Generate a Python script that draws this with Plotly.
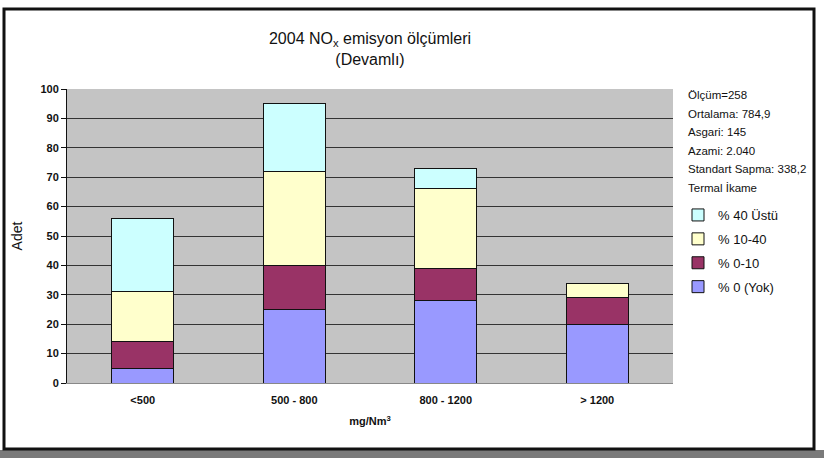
import plotly.graph_objects as go

categories = ["<500", "500 - 800", "800 - 1200", "> 1200"]
yok = [5, 25, 28, 20]
p0_10 = [9, 15, 11, 9]
p10_40 = [17, 32, 27, 5]
p40_ustu = [25, 23, 7, 0]

series = [
    ("% 0 (Yok)", yok, "#9999FF"),
    ("% 0-10", p0_10, "#993366"),
    ("% 10-40", p10_40, "#FFFFCC"),
    ("% 40 Üstü", p40_ustu, "#CCFFFF"),
]

stats = ["Ölçüm=258", "Ortalama: 784,9", "Asgari: 145", "Azami: 2.040",
         "Standart Sapma: 338,2", "Termal İkame"]

FONT = "Liberation Sans, Arial, sans-serif"

fig = go.Figure()
n = len(series)
for i, (name, vals, col) in enumerate(series):
    fig.add_trace(go.Bar(
        x=categories, y=vals, name=name, legendgroup=str(i),
        legendrank=n - i,
        marker=dict(color=col, line=dict(color="#111111", width=1)),
    ))

W, H = 824, 458
L, R, T, B = 67, 151, 89, 75
pw, ph = W - L - R, H - T - B

def px(x):
    return (x - L) / pw

def py(y):
    return (H - B - y) / ph

shapes = [
    dict(type="rect", xref="paper", yref="paper", x0=px(0), x1=px(824), y0=py(450), y1=py(458),
         fillcolor="#7a7a7a", line=dict(width=0), layer="below"),
    dict(type="rect", xref="paper", yref="paper", x0=px(4), x1=px(814), y0=py(449), y1=py(9),
         line=dict(color="#111111", width=3), fillcolor="rgba(0,0,0,0)"),
]

annotations = []
ys = [95, 114, 132, 151, 169, 188]
for txt, yy in zip(stats, ys):
    annotations.append(dict(text=txt, xref="paper", yref="paper", x=px(686), y=py(yy),
                            xanchor="left", yanchor="middle", showarrow=False,
                            font=dict(family=FONT, size=11.5, color="#111")))

fig.update_layout(
    width=W, height=H,
    margin=dict(l=L, r=R, t=T, b=B),
    paper_bgcolor="white",
    plot_bgcolor="#C4C4C4",
    barmode="stack",
    bargap=0.59,
    font=dict(family=FONT, color="#111"),
    title=dict(text="2004 NO<sub>x</sub> emisyon ölçümleri<br>(Devamlı)",
               xref="container", x=370 / W, xanchor="center",
               yref="container", y=1 - 44 / H, yanchor="middle",
               font=dict(size=16, family=FONT, color="#111")),
    legend=dict(x=px(678), y=py(200), xanchor="left", yanchor="top",
                traceorder="grouped", tracegroupgap=4, itemwidth=30,
                font=dict(size=13, family=FONT), bgcolor="rgba(0,0,0,0)"),
    shapes=shapes,
    annotations=annotations,
)
fig.update_yaxes(range=[0, 100], dtick=10, showgrid=True, gridcolor="#333333", gridwidth=1,
                 ticks="outside", ticklen=5, tickcolor="#111",
                 showline=True, linecolor="#111", linewidth=1,
                 tickfont=dict(size=11, family=FONT, weight="bold"),
                 title=dict(text="Adet", font=dict(size=14, family=FONT), standoff=14),
                 zeroline=False)
fig.update_xaxes(showline=True, linecolor="#888", linewidth=1, ticks="",
                 ticklabelstandoff=7,
                 tickfont=dict(size=11, family=FONT, weight="bold"),
                 title=dict(text="mg/Nm<sup>3</sup>", font=dict(size=11, family=FONT, weight="bold"),
                            standoff=12))

fig.write_html("out.html", config={"displayModeBar": False},
               post_script="document.body.style.margin='0';document.body.style.padding='0';")
